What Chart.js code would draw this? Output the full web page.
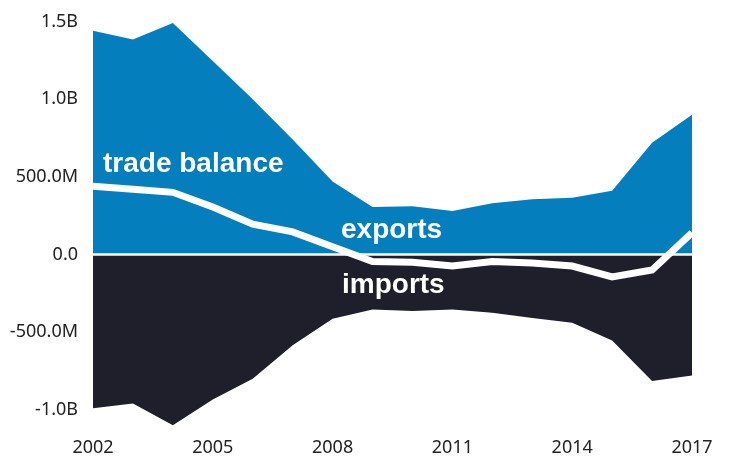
<!DOCTYPE html>
<html>
<head>
<meta charset="utf-8">
<script src="https://cdn.jsdelivr.net/npm/chart.js@4"></script>
<style>
  html, body { margin: 0; padding: 0; background: #fff; }
  #wrap { width: 729px; height: 457px; position: relative; }
</style>
</head>
<body>
<div id="wrap"><canvas id="chart-area"></canvas></div>
<script>
// data
const years = ["2002", "2003", "2004", "2005", "2006", "2007", "2008", "2009",
               "2010", "2011", "2012", "2013", "2014", "2015", "2016", "2017"];
const exportsVals = [1.44e9, 1.385e9, 1.49e9, 1.245e9, 1.0e9, 0.74e9, 0.47e9, 0.305e9,
                     0.31e9, 0.28e9, 0.33e9, 0.355e9, 0.365e9, 0.41e9, 0.72e9, 0.90e9];
const importsVals = [-0.99e9, -0.96e9, -1.10e9, -0.935e9, -0.80e9, -0.585e9, -0.415e9, -0.355e9,
                     -0.365e9, -0.355e9, -0.375e9, -0.41e9, -0.44e9, -0.555e9, -0.815e9, -0.78e9];
const balanceVals = [0.44e9, 0.42e9, 0.40e9, 0.305e9, 0.195e9, 0.145e9, 0.05e9, -0.045e9,
                     -0.05e9, -0.075e9, -0.045e9, -0.055e9, -0.075e9, -0.145e9, -0.10e9, 0.14e9];
const yTicks = [-1.0e9, -5e8, 0, 5e8, 1.0e9, 1.5e9];

function fmtValue(v) {
    const a = Math.abs(v);
    if (a >= 1e9) return (v / 1e9).toFixed(1) + 'B';
    if (a >= 1e6) return (v / 1e6).toFixed(1) + 'M';
    return v.toFixed(1);
}

// white line along zero, drawn between the areas and the balance line
const zeroLine = {
    id: 'zeroLine',
    beforeDatasetDraw(chart, args) {
        if (args.index !== 0) return;
        const { ctx, chartArea } = chart;
        const y = chart.scales.y.getPixelForValue(0);
        ctx.save();
        ctx.strokeStyle = '#fff';
        ctx.lineWidth = 2.5;
        ctx.beginPath();
        ctx.moveTo(chartArea.left, y);
        ctx.lineTo(chartArea.right, y);
        ctx.stroke();
        ctx.restore();
    }
};

// in-chart series labels
const seriesLabels = {
    id: 'seriesLabels',
    afterDraw(chart) {
        const ctx = chart.ctx;
        ctx.save();
        ctx.fillStyle = '#fff';
        ctx.font = 'bold 28px "Liberation Sans", Arial, sans-serif';
        ctx.textBaseline = 'alphabetic';
        ctx.textAlign = 'left';
        ctx.fillText('trade balance', 103, 172);
        ctx.fillText('exports', 341, 238);
        ctx.fillText('imports', 342, 293);
        ctx.restore();
    }
};

const data = {
    labels: years,
    datasets: [{
        label: 'trade balance',
        data: balanceVals,
        borderColor: '#fff',
        borderWidth: 7,
        pointRadius: 0,
        fill: false,
        tension: 0,
        clip: 0
    },
    {
        label: 'exports',
        data: exportsVals,
        backgroundColor: '#047ebd',
        borderColor: 'rgba(0,0,0,0)',
        borderWidth: 0,
        pointRadius: 0,
        fill: 'origin',
        tension: 0
    },
    {
        label: 'imports',
        data: importsVals,
        backgroundColor: '#1e1f2a',
        borderColor: 'rgba(0,0,0,0)',
        borderWidth: 0,
        pointRadius: 0,
        fill: 'origin',
        tension: 0
    }]
};

const config = {
    type: 'line',
    data,
    options: {
        responsive: true,
        maintainAspectRatio: false,
        animation: false,
        layout: { padding: { top: 6, right: 37, bottom: 0, left: 0 } },
        plugins: {
            legend: { display: false },
            tooltip: { enabled: false }
        },
        scales: {
            x: {
                grid: { display: false, drawTicks: false },
                border: { display: false },
                ticks: {
                    autoSkip: false,
                    maxRotation: 0,
                    padding: 4,
                    color: '#222',
                    font: { family: '"Noto Sans", sans-serif', size: 18 },
                    callback: (v, i) => (i % 3 === 0 ? years[i] : '')
                },
                afterFit: (axis) => {
                    axis.height = 24;
                    axis.paddingLeft = 0;
                    axis.paddingRight = 0;
                }
            },
            y: {
                min: -1.15e9,
                max: 1.6e9,
                grid: { display: false, drawTicks: false },
                border: { display: false },
                ticks: {
                    padding: 15,
                    color: '#222',
                    font: { family: '"Noto Sans", sans-serif', size: 18 },
                    callback: (v) => fmtValue(v)
                },
                afterBuildTicks: (axis) => {
                    axis.ticks = yTicks.map(v => ({ value: v }));
                },
                afterFit: (axis) => {
                    axis.width = 93;
                    axis.paddingTop = 0;
                    axis.paddingBottom = 0;
                }
            }
        }
    },
    plugins: [zeroLine, seriesLabels]
};

const myChart = new Chart(document.getElementById('chart-area'), config);
</script>
</body>
</html>
